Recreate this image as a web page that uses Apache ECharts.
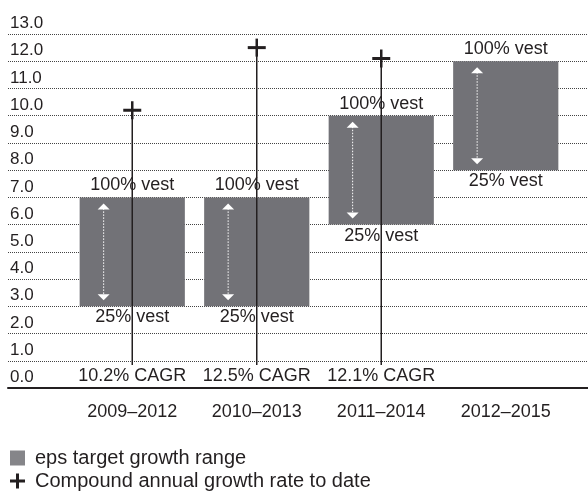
<!DOCTYPE html>
<html style="height: 100%">
<head>
  <meta charset="UTF-8">
  <title>eps target growth range</title>
  <script src="https://cdn.jsdelivr.net/npm/echarts@6/dist/echarts.min.js"></script>
</head>
<body style="height: 100%; margin: 0; background: #fff">
<div id="main" style="width: 588px; height: 492px"></div>

<script>
  // values
  const periods = ['2009–2012', '2010–2013', '2011–2014', '2012–2015'];
  const vestLow = [3, 3, 6, 8];       // 25% vest level
  const vestHigh = [7, 7, 10, 12];    // 100% vest level
  const cagrValues = [10.2, 12.5, 12.1];

  const FONT = '"Liberation Sans", Arial, Helvetica, sans-serif';
  const TEXT = '#231f20';
  const BAR = '#727277';

  const rangeData = periods.map((p, i) => [i, vestLow[i], vestHigh[i]]);
  const cagrData = cagrValues.map((v, i) => [i, v]);

  function renderRange(params, api) {
    const x = api.value(0);
    const lo = api.coord([x, api.value(1)]);
    const hi = api.coord([x, api.value(2)]);
    const w = api.size([1, 0])[0] * 0.845;
    const left = hi[0] - w / 2;
    const ax = left + 24;
    const tTop = hi[1] + 6, tBot = lo[1] - 6;
    return {
      type: 'group',
      children: [
        { type: 'rect', shape: { x: left, y: hi[1], width: w, height: lo[1] - hi[1] }, style: { fill: BAR } },
        { type: 'line', shape: { x1: ax, y1: tTop + 5, x2: ax, y2: tBot - 5 },
          style: { stroke: '#fff', lineWidth: 1, lineDash: [1.5, 1.5] } },
        { type: 'polygon', shape: { points: [[ax, tTop], [ax - 6, tTop + 6], [ax + 6, tTop + 6]] }, style: { fill: '#fff' } },
        { type: 'polygon', shape: { points: [[ax, tBot], [ax - 6, tBot - 6], [ax + 6, tBot - 6]] }, style: { fill: '#fff' } },
        { type: 'text', x: hi[0], y: hi[1] - 3,
          style: { text: '100% vest', fill: TEXT, font: '18px ' + FONT, align: 'center', verticalAlign: 'bottom' } },
        { type: 'text', x: hi[0], y: lo[1] + 2,
          style: { text: '25% vest', fill: TEXT, font: '18px ' + FONT, align: 'center', verticalAlign: 'top' } }
      ]
    };
  }

  function renderCagr(params, api) {
    const x = api.value(0);
    const v = api.value(1);
    const top = api.coord([x, v]);
    const base = api.coord([x, 0]);
    return {
      type: 'group',
      children: [
        { type: 'line', shape: { x1: top[0], y1: base[1] - 23, x2: top[0], y2: top[1] },
          style: { stroke: TEXT, lineWidth: 1.5 } },
        { type: 'line', shape: { x1: top[0] - 9, y1: top[1], x2: top[0] + 9, y2: top[1] },
          style: { stroke: TEXT, lineWidth: 3 } },
        { type: 'line', shape: { x1: top[0], y1: top[1] - 9, x2: top[0], y2: top[1] + 9 },
          style: { stroke: TEXT, lineWidth: 2.5 } },
        { type: 'text', x: top[0], y: base[1] - 12,
          style: { text: v.toFixed(1) + '% CAGR', fill: TEXT, font: '18px ' + FONT, align: 'center', verticalAlign: 'middle' } }
      ]
    };
  }

  const legendText = { fontSize: 20, color: TEXT, fontFamily: FONT, padding: [0, 0, 0, 5] };

  const option = {
    backgroundColor: '#fff',
    animation: false,
    textStyle: { fontFamily: FONT },
    legend: [
      {
        left: 5, top: 443, itemWidth: 15, itemHeight: 15, selectedMode: false,
        textStyle: legendText,
        data: [{ name: 'eps target growth range', icon: 'rect', itemStyle: { color: '#858589' } }]
      },
      {
        left: 5, top: 466, itemWidth: 15, itemHeight: 15, selectedMode: false,
        textStyle: legendText,
        data: [{ name: 'Compound annual growth rate to date', icon: 'path://M0,6h15v3H0z M6,0h3v15H6z' }]
      }
    ],
    grid: [
      // full-width frame for the gridlines and value labels
      { left: 8, right: 0, top: 34, bottom: 104 },
      // data area
      { left: 70, right: 20, top: 34, bottom: 104 }
    ],
    xAxis: [
      { gridIndex: 0, type: 'value', min: 0, max: 1,
        axisLine: { show: true, onZero: false, lineStyle: { color: TEXT, width: 2 } },
        axisTick: { show: false }, axisLabel: { show: false }, splitLine: { show: false } },
      { gridIndex: 1, type: 'category', data: periods,
        axisLine: { show: false }, axisTick: { show: false },
        axisLabel: { interval: 0, fontSize: 18, color: TEXT, fontFamily: FONT, margin: 15 } }
    ],
    yAxis: [
      { gridIndex: 0, type: 'value', min: 0, max: 13, interval: 1,
        axisLine: { show: false }, axisTick: { show: false },
        axisLabel: { inside: true, margin: 2, fontSize: 17, color: TEXT, fontFamily: FONT,
          verticalAlign: 'bottom', padding: [0, 0, 2, 0],
          formatter: v => v.toFixed(1) },
        splitLine: { lineStyle: { color: '#444', width: 1, type: [1, 1] } } },
      { gridIndex: 1, type: 'value', min: 0, max: 13, show: false }
    ],
    series: [
      {
        name: 'eps target growth range',
        type: 'custom',
        xAxisIndex: 1,
        yAxisIndex: 1,
        itemStyle: { color: BAR },
        renderItem: renderRange,
        encode: { x: 0, y: [1, 2] },
        data: rangeData
      },
      {
        name: 'Compound annual growth rate to date',
        type: 'custom',
        xAxisIndex: 1,
        yAxisIndex: 1,
        itemStyle: { color: TEXT },
        renderItem: renderCagr,
        encode: { x: 0, y: 1 },
        data: cagrData,
        z: 3
      }
    ]
  };

  let chart = echarts.init(document.getElementById('main'));
  chart.setOption(option);
</script>
</body>
</html>
